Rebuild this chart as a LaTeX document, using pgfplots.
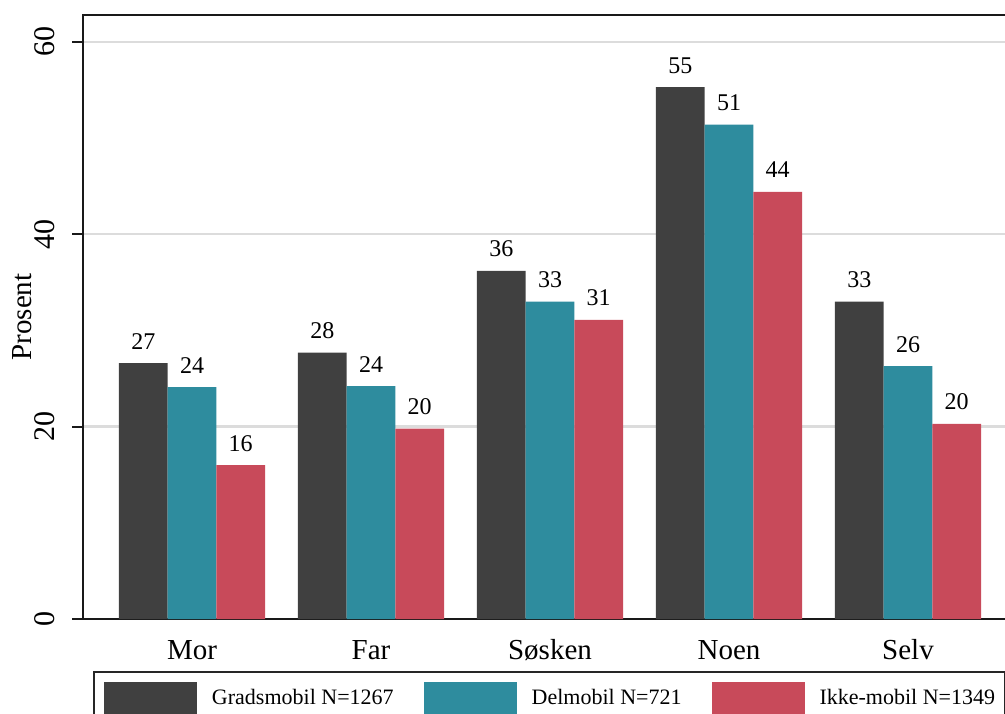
\documentclass[border=0pt]{standalone}
\usepackage{fontspec}
\setmainfont{Liberation Serif}
\usepackage{pgfplots}
\pgfplotsset{compat=1.18}
\definecolor{grad}{HTML}{404040}
\definecolor{del}{HTML}{2E8C9E}
\definecolor{ikke}{HTML}{C84A5A}
\definecolor{gridgray}{HTML}{DCDCDC}
\pgfplotsset{
  swatch/.style={fill=#1, draw=none,
    legend image code/.code={\fill[#1] (0pt,-9pt) rectangle (46.5pt,8pt);}},
}
\begin{document}
\begin{tikzpicture}
\useasboundingbox (-41.5pt,-47pt) rectangle (461pt,309.5pt);
\clip (-41.5pt,-47pt) rectangle (461pt,309.5pt);
\begin{axis}[
  at={(0,0)}, anchor=south west,
  scale only axis, width=467pt, height=302pt,
  xmin=-0.609, xmax=4.609, ymin=0, ymax=62.8,
  ybar=0pt, bar width=0.272,
  /pgf/number format/assume math mode=true,
  axis line style={line width=1pt, black!90},
  xtick={0,1,2,3,4},
  xticklabels={Mor,Far,Søsken,Noen,Selv},
  x tick style={draw=none},
  xticklabel style={font=\fontsize{14.5}{16}\selectfont, anchor=base, yshift=-14.5pt},
  ytick={0,20,40,60},
  ytick pos=left, ytick align=outside,
  y tick style={line width=1pt, black!90},
  major tick length=5.5pt,
  yticklabel style={font=\fontsize{15}{17}\selectfont, rotate=90, anchor=base},
  yticklabel shift=8.5pt,
  ymajorgrids,
  major grid style={draw=gridgray, line width=1.2pt},
  ylabel={Prosent},
  every axis y label/.style={at={(axis description cs:-0.0551,0.5)}, rotate=90, anchor=base,
    font=\fontsize{14.5}{16}\selectfont},
  point meta=y,
  nodes near coords={\pgfmathprintnumber[fixed,precision=0]{\pgfplotspointmeta}},
  nodes near coords style={font=\fontsize{12}{14}\selectfont, anchor=base, yshift=7pt, inner sep=0pt, black},
  legend columns=3,
  legend style={at={(axis description cs:0.0107,-0.0861)}, anchor=north west,
    draw=black!85, line width=1pt,
    font=\fontsize{11}{13}\selectfont,
    inner xsep=5pt, inner ysep=5pt,
    nodes={inner sep=0pt},
    /tikz/every odd column/.append style={column sep=7.5pt},
    /tikz/every even column/.append style={column sep=15pt}},
]
\addplot[swatch=grad] coordinates {(0,26.6) (1,27.7) (2,36.2) (3,55.3) (4,33.0)};
\addplot[swatch=del]  coordinates {(0,24.1) (1,24.2) (2,33.0) (3,51.4) (4,26.3)};
\addplot[swatch=ikke] coordinates {(0,16.0) (1,19.8) (2,31.1) (3,44.4) (4,20.3)};
\legend{Gradsmobil N=1267, Delmobil N=721, Ikke-mobil N=1349}
\end{axis}
\end{tikzpicture}
\end{document}
